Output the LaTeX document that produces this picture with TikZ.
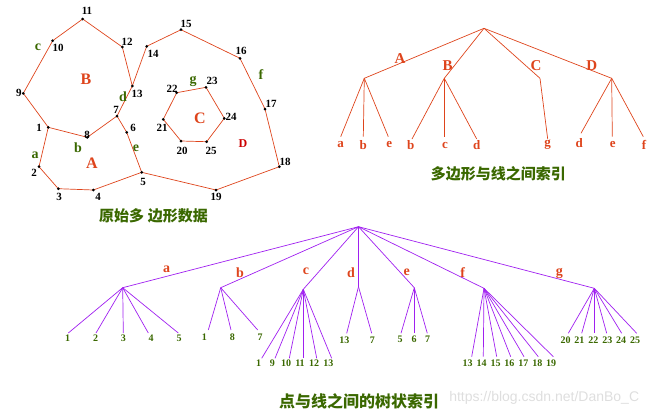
\documentclass[tikz,border=0pt]{standalone}
\usepackage{fontspec}
\setmainfont{Liberation Serif}
\newfontfamily\cjk{Noto Sans CJK SC}
\newfontfamily\wmfont{Liberation Sans}
\definecolor{polyc}{RGB}{222,68,28}
\definecolor{grn}{RGB}{58,104,0}
\definecolor{dred}{RGB}{204,0,0}
\definecolor{purp}{RGB}{160,32,240}
\definecolor{wmgray}{RGB}{222,222,222}
\tikzset{
  poly/.style={draw=polyc, line width=0.7pt},
  num/.style={font=\bfseries\fontsize{11}{11}\selectfont, inner sep=0.5pt},
  lbl/.style={text=grn, font=\bfseries\fontsize{14}{14}\selectfont, inner sep=0.5pt},
  reg/.style={text=polyc, font=\bfseries\fontsize{16}{16}\selectfont, inner sep=0.5pt},
  tone/.style={draw=polyc, line width=0.7pt},
  tonelab/.style={text=polyc, font=\bfseries\fontsize{15}{15}\selectfont, inner sep=0pt},
  toneleaf/.style={text=polyc, font=\bfseries\fontsize{13}{13}\selectfont, inner sep=0pt},
  ttwo/.style={draw=purp, line width=0.7pt},
  ttwolab/.style={text=polyc, font=\bfseries\fontsize{14}{14}\selectfont, inner sep=0pt},
  ttwoleaf/.style={text=grn, font=\bfseries\fontsize{10}{10}\selectfont, inner sep=0pt},
  captext/.style={text=grn, font=\cjk\bfseries\fontsize{15}{15}\selectfont, inner sep=0pt},
}
\begin{document}
\begin{tikzpicture}[x=1pt,y=-1pt]
\useasboundingbox (0,0) rectangle (657,413);
% ---------- polygon points ----------
\coordinate (p1) at (48.3,127.3);
\coordinate (p2) at (39,166.7);
\coordinate (p3) at (58.3,188.7);
\coordinate (p4) at (93.3,190);
\coordinate (p5) at (141.7,172.3);
\coordinate (p6) at (126.7,132.3);
\coordinate (p7) at (117,116);
\coordinate (p8) at (87.3,137.3);
\coordinate (p9) at (23.3,93.3);
\coordinate (p10) at (52.7,40.7);
\coordinate (p11) at (82.7,19);
\coordinate (p12) at (122.3,47);
\coordinate (p13) at (132.3,86);
\coordinate (p14) at (146.7,46.3);
\coordinate (p15) at (181,29.7);
\coordinate (p16) at (240,58.3);
\coordinate (p17) at (265,109);
\coordinate (p18) at (279.3,166.7);
\coordinate (p19) at (216,190);
\coordinate (p20) at (181,141);
\coordinate (p21) at (163.3,119.3);
\coordinate (p22) at (176.7,92.7);
\coordinate (p23) at (206,87.3);
\coordinate (p24) at (224.3,118.3);
\coordinate (p25) at (206.7,141.7);
% lines
\draw[poly] (p1)--(p2)--(p3)--(p4)--(p5);
\draw[poly] (p1)--(p8)--(p7);
\draw[poly] (p1)--(p9)--(p10)--(p11)--(p12)--(p13);
\draw[poly] (p13)--(p7);
\draw[poly] (p5)--(p6)--(p7);
\draw[poly] (p13)--(p14)--(p15)--(p16)--(p17)--(p18)--(p19)--(p5);
\draw[poly] (p20)--(p21)--(p22)--(p23)--(p24)--(p25)--cycle;
% dots
\foreach \i in {1,...,25} \fill (p\i) circle (1.5);
% number labels
\node[num] (n1) at (39,128) {1};
\node[num] (n2) at (34,173) {2};
\node[num] (n3) at (59,197) {3};
\node[num] (n4) at (98,197) {4};
\node[num] (n5) at (143,182) {5};
\node[num] (n6) at (133,128) {6};
\node[num] (n7) at (116,110) {7};
\node[num] (n8) at (87,135) {8};
\node[num] (n9) at (19,93) {9};
\node[num] (n10) at (58,48) {10};
\node[num] (n11) at (87,11) {11};
\node[num] (n12) at (127,42) {12};
\node[num] (n13) at (137,94) {13};
\node[num] (n14) at (153,54) {14};
\node[num] (n15) at (186,24) {15};
\node[num] (n16) at (241,51) {16};
\node[num] (n17) at (271,104) {17};
\node[num] (n18) at (285,162) {18};
\node[num] (n19) at (216,197) {19};
\node[num] (n20) at (182,151) {20};
\node[num] (n21) at (162,128) {21};
\node[num] (n22) at (172,89) {22};
\node[num] (n23) at (212,81) {23};
\node[num] (n24) at (231,117) {24};
\node[num] (n25) at (211,151) {25};
% line letters
\node[lbl] (la) at (35,155) {a};
\node[lbl] (lb) at (78,148) {b};
\node[lbl] (lc) at (38,47) {c};
\node[lbl] (ld) at (123,97) {d};
\node[lbl] (le) at (136,148) {e};
\node[lbl] (lf) at (261,75) {f};
\node[lbl] (lg) at (193,81) {g};
% region letters
\node[reg] (rA) at (92,163) {A};
\node[reg] (rB) at (86,79) {B};
\node[reg] (rC) at (200,118) {C};
\node[text=dred, font=\bfseries\fontsize{12}{12}\selectfont, inner sep=0.5pt] (rD) at (243,144) {D};
\node[captext] (cap1) at (153.5,216) {原始多\hspace{4pt}边形数据};
% ---------- polygon-line tree ----------
\coordinate (R) at (484,28.3);
\coordinate (TA) at (364.3,78.3);
\coordinate (TB) at (444.3,78.3);
\coordinate (TC) at (540,78.3);
\coordinate (TD) at (611.7,78.3);
\draw[tone] (R)--(TA); \draw[tone] (R)--(TB); \draw[tone] (R)--(TC); \draw[tone] (R)--(TD);
\node[tonelab] (tlA) at (400,59) {A};
\node[tonelab] (tlB) at (447.7,66) {B};
\node[tonelab] (tlC) at (536,66) {C};
\node[tonelab] (tlD) at (591.7,66) {D};
\coordinate (ea1) at (340.7,136.7);
\coordinate (ea2) at (363.3,136.7);
\coordinate (ea3) at (388.3,136.7);
\coordinate (eb1) at (412,139);
\coordinate (eb2) at (444.3,136.7);
\coordinate (eb3) at (476.7,139);
\coordinate (ec1) at (547.7,139);
\coordinate (ed1) at (581,133.3);
\coordinate (ed2) at (612.3,136.7);
\coordinate (ed3) at (643.3,136.7);
\draw[tone] (TA)--(ea1); \draw[tone] (TA)--(ea2); \draw[tone] (TA)--(ea3);
\draw[tone] (TB)--(eb1); \draw[tone] (TB)--(eb2); \draw[tone] (TB)--(eb3);
\draw[tone] (TC)--(ec1);
\draw[tone] (TD)--(ed1); \draw[tone] (TD)--(ed2); \draw[tone] (TD)--(ed3);
\node[toneleaf] (ta1) at (340.7,145) {a};
\node[toneleaf] (ta2) at (363.3,145) {b};
\node[toneleaf] (ta3) at (389.3,145) {e};
\node[toneleaf] (tb1) at (410.7,145) {b};
\node[toneleaf] (tb2) at (445,145) {c};
\node[toneleaf] (tb3) at (476.7,145) {d};
\node[toneleaf] (tc1) at (547.7,145) {g};
\node[toneleaf] (td1) at (579.3,143.3) {d};
\node[toneleaf] (td2) at (612.7,145) {e};
\node[toneleaf] (td3) at (644,145) {f};
\node[captext] (cap2) at (498.3,173.3) {多边形与线之间索引};
% ---------- point-line tree ----------
\coordinate (S) at (358.5,226.7);
\coordinate (Sa) at (122.7,287.7);
\coordinate (Sb) at (220.7,287.7);
\coordinate (Sc) at (303.3,289.3);
\coordinate (Sd) at (358.5,286.7);
\coordinate (Se) at (414.3,287.7);
\coordinate (Sf) at (484,288.3);
\coordinate (Sg) at (594.3,288.3);
\foreach \k in {a,b,c,d,e,f,g} \draw[ttwo] (S)--(S\k);
\node[ttwolab] (sla) at (166.7,269.3) {a};
\node[ttwolab] (slb) at (240,272.7) {b};
\node[ttwolab] (slc) at (306,271) {c};
\node[ttwolab] (sld) at (351,272.3) {d};
\node[ttwolab] (sle) at (406.7,272.7) {e};
\node[ttwolab] (slf) at (462.7,272.3) {f};
\node[ttwolab] (slg) at (559.3,273.3) {g};
% a leaves
\foreach \n/\ex/\lx in {1/68.3/67.7, 2/96/95.7, 3/123.3/123.3, 4/148.3/151, 5/178.3/179}{
  \coordinate (ea\n x) at (\ex,333);
  \draw[ttwo] (Sa)--(ea\n x);
  \node[ttwoleaf] (sa\n) at (\lx,338.3) {\n};
}
% b leaves
\foreach \n/\ex/\lx in {1/208.3/204.3, 8/231/232.3, 7/257.7/260}{
  \coordinate (eb\n x) at (\ex,330);
  \draw[ttwo] (Sb)--(eb\n x);
  \node[ttwoleaf] (sb\n) at (\lx,337.3) {\n};
}
% c leaves
\foreach \n/\ex/\lx in {1/261.7/258.7, 9/275/272.3, 10/289.3/286, 11/303.3/300, 12/316.7/314, 13/331.7/328.3}{
  \coordinate (ec\n x) at (\ex,358.3);
  \draw[ttwo] (Sc)--(ec\n x);
  \node[ttwoleaf] (sc\n) at (\lx,363.3) {\n};
}
% d leaves
\foreach \n/\ex/\lx in {13/346.7/344.3, 7/371.7/372.3}{
  \coordinate (ed\n x) at (\ex,333.3);
  \draw[ttwo] (Sd)--(ed\n x);
  \node[ttwoleaf] (sd\n) at (\lx,340) {\n};
}
% e leaves
\foreach \n/\ex/\lx in {5/401/400, 6/414.3/414, 7/427.3/427.7}{
  \coordinate (ee\n x) at (\ex,333.3);
  \draw[ttwo] (Se)--(ee\n x);
  \node[ttwoleaf] (se\n) at (\lx,339.3) {\n};
}
% f leaves
\foreach \n/\ex/\lx in {13/471.7/467.7, 14/483.3/481.7, 15/496.7/495.7, 16/510.7/509.3, 17/524/523.3, 18/538.3/537.3, 19/553.3/551}{
  \coordinate (ef\n x) at (\ex,356.7);
  \draw[ttwo] (Sf)--(ef\n x);
  \node[ttwoleaf] (sf\n) at (\lx,363.3) {\n};
}
% g leaves
\foreach \n/\ex/\lx in {20/568.3/565.7, 21/581.7/579.3, 22/594.3/593.3, 23/606.7/607.3, 24/621.7/621, 25/636.7/635}{
  \coordinate (eg\n x) at (\ex,333.3);
  \draw[ttwo] (Sg)--(eg\n x);
  \node[ttwoleaf] (sg\n) at (\lx,340) {\n};
}
\node[captext, font=\cjk\bfseries\fontsize{16}{16}\selectfont] (cap3) at (359,401.7) {点与线之间的树状索引};
\node[text=wmgray, font=\wmfont\fontsize{14}{14}\selectfont, inner sep=0pt] (wm) at (544.2,398) {https://blog.csdn.net/DanBo\_C};
\end{tikzpicture}
\end{document}
